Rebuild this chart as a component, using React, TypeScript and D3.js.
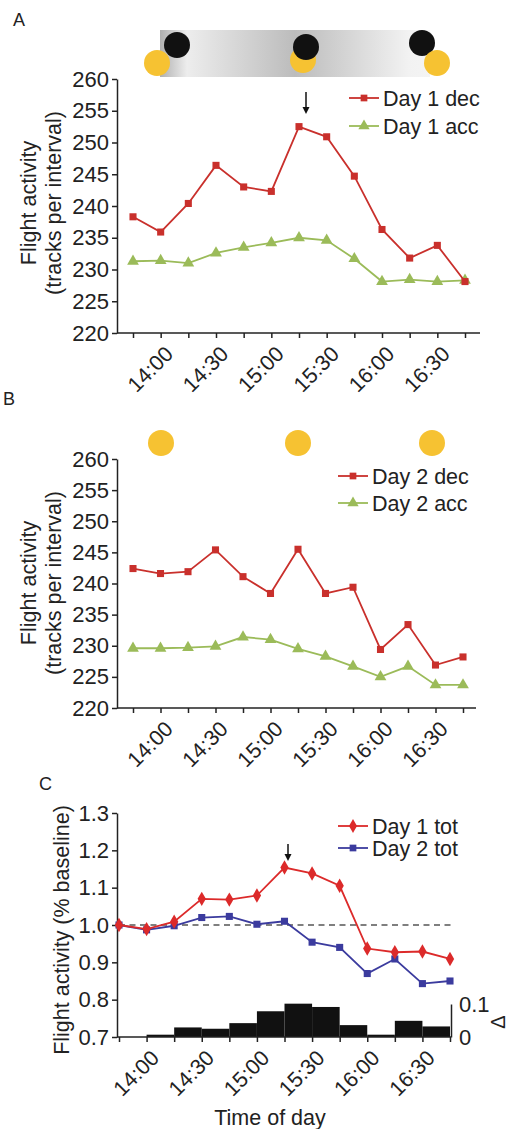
import React, { useEffect, useRef } from 'react';
import * as d3 from 'd3';

// 15 min intervals
const times = ['13:45', '14:00', '14:15', '14:30', '14:45', '15:00', '15:15', '15:30', '15:45', '16:00', '16:15', '16:30', '16:45'];
const timeLabels = ['14:00', '14:30', '15:00', '15:30', '16:00', '16:30'];

const countTicks = [220, 225, 230, 235, 240, 245, 250, 255, 260];
const relTicks = [0.7, 0.8, 0.9, 1.0, 1.1, 1.2, 1.3];
const deltaTicks = [0, 0.1];

const day1Dec = [238.3, 235.9, 240.4, 246.4, 243.0, 242.3, 252.5, 250.9, 244.7, 236.3, 231.8, 233.8, 228.1];
const day1Acc = [231.3, 231.4, 231.0, 232.6, 233.5, 234.2, 235.0, 234.6, 231.7, 228.1, 228.4, 228.1, 228.3];
const day2Dec = [242.4, 241.6, 241.9, 245.4, 241.1, 238.4, 245.5, 238.4, 239.4, 229.4, 233.4, 226.9, 228.2];
const day2Acc = [229.6, 229.6, 229.7, 229.9, 231.4, 231.0, 229.5, 228.3, 226.7, 225.0, 226.7, 223.7, 223.7];
const day1Tot = [1.0, 0.989, 1.009, 1.07, 1.068, 1.079, 1.154, 1.138, 1.105, 0.937, 0.927, 0.929, 0.909];
const day2Tot = [1.0, 0.987, 0.998, 1.02, 1.023, 1.002, 1.01, 0.954, 0.94, 0.87, 0.909, 0.843, 0.85];
// difference between days, one value per interval
const delta = [0, 0.007, 0.029, 0.025, 0.042, 0.078, 0.101, 0.091, 0.036, 0.007, 0.049, 0.032];

const FONT = 'Arial, "Liberation Sans", sans-serif';
const RED = '#c9302c';
const GREEN = '#9bbb59';
const RED2 = '#dc2a2a';
const BLUE = '#3b3b9e';
const SUN = '#f6c232';

export default function App() {
  const svgRef = useRef(null);

  useEffect(() => {
    const svg = d3.select(svgRef.current);
    svg.selectAll('*').remove();
    svg.style('font-family', FONT);

    const defs = svg.append('defs');
    const grad = defs.append('linearGradient').attr('id', 'sky');
    [['0%', '#b0b0b0'], ['10%', '#ededed'], ['50%', '#bcbcbc'], ['92%', '#f2f2f2'], ['100%', '#f4f4f4']]
      .forEach(([o, c]) => grad.append('stop').attr('offset', o).attr('stop-color', c));

    const symbol = (type, size) => d3.symbol().type(type).size(size)();

    function series(g, x, y, values, color, type, size) {
      const line = d3.line().x((d, i) => x(times[i])).y(d => y(d));
      g.append('path').attr('d', line(values)).attr('fill', 'none')
        .attr('stroke', color).attr('stroke-width', 1.8);
      g.selectAll(null).data(values).enter().append('path')
        .attr('d', symbol(type, size))
        .attr('transform', (d, i) => `translate(${x(times[i])},${y(d)})`)
        .attr('fill', color);
    }

    function legend(g, lx, ly, label, color, type, size) {
      g.append('line').attr('x1', lx).attr('x2', lx + 30).attr('y1', ly).attr('y2', ly)
        .attr('stroke', color).attr('stroke-width', 1.8);
      g.append('path').attr('d', symbol(type, size))
        .attr('transform', `translate(${lx + 15},${ly})`).attr('fill', color);
      g.append('text').attr('x', lx + 34).attr('y', ly).attr('dy', '0.36em')
        .attr('font-size', 21.5).attr('fill', '#222').text(label);
    }

    function yAxis(g, y, ticks, fmt) {
      const a = g.append('g').attr('transform', 'translate(117,0)')
        .call(d3.axisLeft(y).tickValues(ticks).tickFormat(fmt).tickSize(5).tickSizeOuter(0));
      a.select('.domain').attr('stroke', '#222').attr('stroke-width', 1.5);
      a.selectAll('.tick line').attr('stroke', '#222').attr('stroke-width', 1.5);
      a.selectAll('text').attr('font-size', 22).attr('font-family', FONT).attr('fill', '#222');
    }

    function xAxis(g, x, y0, x0, x1) {
      const a = g.append('g').attr('transform', `translate(0,${y0})`)
        .call(d3.axisBottom(x).tickSize(5).tickSizeOuter(0)
          .tickFormat(d => (timeLabels.includes(d) ? d : '')));
      a.select('.domain').remove();
      a.append('line').attr('x1', x0).attr('x2', x1).attr('stroke', '#222').attr('stroke-width', 1.5);
      a.selectAll('.tick line').attr('stroke', '#222').attr('stroke-width', 1.5);
      a.selectAll('text').attr('font-size', 21.5).attr('font-family', FONT).attr('fill', '#222')
        .attr('text-anchor', 'end').attr('dy', '0.35em').attr('y', 0)
        .attr('transform', 'translate(8,17) rotate(-45)');
    }

    function yTitle(g, lines, cx, cy) {
      lines.forEach((t, i) => {
        g.append('text').attr('transform', `translate(${cx + i * 25},${cy}) rotate(-90)`)
          .attr('text-anchor', 'middle').attr('dy', '0.35em')
          .attr('font-size', 21.5).attr('fill', '#222').text(t);
      });
    }

    function arrow(g, ax, y1, y2) {
      g.append('line').attr('x1', ax).attr('x2', ax).attr('y1', y1).attr('y2', y2 - 4)
        .attr('stroke', '#111').attr('stroke-width', 1.5);
      g.append('path').attr('d', `M${ax - 3.5},${y2 - 7}L${ax},${y2}L${ax + 3.5},${y2 - 7}Z`).attr('fill', '#111');
    }

    // ---- panel A ----
    const gA = svg.append('g');
    gA.append('text').attr('x', 13).attr('y', 26).attr('font-size', 18).attr('fill', '#222').text('A');
    gA.append('rect').attr('x', 160).attr('y', 30).attr('width', 270).attr('height', 47).attr('fill', 'url(#sky)');
    gA.append('circle').attr('cx', 157).attr('cy', 63).attr('r', 13).attr('fill', SUN);
    gA.append('circle').attr('cx', 177).attr('cy', 45).attr('r', 13).attr('fill', '#111');
    gA.append('circle').attr('cx', 303).attr('cy', 60).attr('r', 13).attr('fill', SUN);
    gA.append('circle').attr('cx', 306).attr('cy', 47).attr('r', 13).attr('fill', '#111');
    gA.append('circle').attr('cx', 422).attr('cy', 43).attr('r', 13).attr('fill', '#111');
    gA.append('circle').attr('cx', 437).attr('cy', 63).attr('r', 13).attr('fill', SUN);

    const xA = d3.scalePoint().domain(times).range([133, 465]);
    const yA = d3.scaleLinear().domain([220, 260]).range([333, 79]);
    yAxis(gA, yA, countTicks, d => d);
    xAxis(gA, xA, 333, 117, 480);
    yTitle(gA, ['Flight activity', '(tracks per interval)'], 28, 203);
    series(gA, xA, yA, day1Acc, GREEN, d3.symbolTriangle, 60);
    series(gA, xA, yA, day1Dec, RED, d3.symbolSquare, 50);
    arrow(gA, 306, 92, 114);
    legend(gA, 349, 98, 'Day 1 dec', RED, d3.symbolSquare, 45);
    legend(gA, 349, 126, 'Day 1 acc', GREEN, d3.symbolTriangle, 55);

    // ---- panel B ----
    const gB = svg.append('g');
    gB.append('text').attr('x', 3).attr('y', 405).attr('font-size', 18).attr('fill', '#222').text('B');
    [161, 298, 432].forEach(cx => gB.append('circle').attr('cx', cx).attr('cy', 443).attr('r', 13).attr('fill', SUN));
    const xB = d3.scalePoint().domain(times).range([133, 463]);
    const yB = d3.scaleLinear().domain([220, 260]).range([708, 459]);
    yAxis(gB, yB, countTicks, d => d);
    xAxis(gB, xB, 708, 117, 476);
    yTitle(gB, ['Flight activity', '(tracks per interval)'], 28, 583);
    series(gB, xB, yB, day2Acc, GREEN, d3.symbolTriangle, 60);
    series(gB, xB, yB, day2Dec, RED, d3.symbolSquare, 50);
    legend(gB, 338, 476, 'Day 2 dec', RED, d3.symbolSquare, 45);
    legend(gB, 338, 503, 'Day 2 acc', GREEN, d3.symbolTriangle, 55);

    // ---- panel C ----
    const gC = svg.append('g');
    gC.append('text').attr('x', 39).attr('y', 790).attr('font-size', 18).attr('fill', '#222').text('C');
    const xC = d3.scalePoint().domain(times).range([119, 450]);
    const yC = d3.scaleLinear().domain([0.7, 1.3]).range([1037, 813]);
    const yD = d3.scaleLinear().domain([0, 0.1]).range([1037, 1004]);

    gC.selectAll(null).data(delta).enter().append('rect')
      .attr('x', (d, i) => xC(times[i]))
      .attr('width', (d, i) => xC(times[i + 1]) - xC(times[i]))
      .attr('y', d => yD(d))
      .attr('height', d => yD(0) - yD(d))
      .attr('fill', '#111');

    yAxis(gC, yC, relTicks, d3.format('.1f'));
    xAxis(gC, xC, 1037, 117, 451);
    const r = gC.append('g').attr('transform', 'translate(451,0)')
      .call(d3.axisRight(yD).tickValues(deltaTicks).tickFormat(d => (d === 0 ? '0' : d)).tickSize(0).tickSizeOuter(0).tickPadding(8));
    r.select('.domain').attr('stroke', '#222').attr('stroke-width', 1.5);
    r.selectAll('text').attr('font-size', 22).attr('font-family', FONT).attr('fill', '#222');
    gC.append('text').attr('transform', 'translate(498,1022) rotate(-90)').attr('text-anchor', 'middle')
      .attr('dy', '0.35em').attr('font-size', 20).attr('fill', '#222').text('Δ');

    gC.append('line').attr('x1', 119).attr('x2', 452).attr('y1', yC(1)).attr('y2', yC(1))
      .attr('stroke', '#555').attr('stroke-width', 1.6).attr('stroke-dasharray', '6,4.5');
    yTitle(gC, ['Flight activity (% baseline)'], 61, 930);
    series(gC, xC, yC, day2Tot, BLUE, d3.symbolSquare, 50);
    series(gC, xC, yC, day1Tot, RED2, d3.symbolDiamond, 60);
    arrow(gC, 288, 844, 861);
    legend(gC, 338, 826, 'Day 1 tot', RED2, d3.symbolDiamond, 55);
    legend(gC, 338, 848, 'Day 2 tot', BLUE, d3.symbolSquare, 45);

    gC.append('text').attr('x', 270).attr('y', 1125).attr('text-anchor', 'middle')
      .attr('font-size', 21.5).attr('fill', '#222').text('Time of day');
  }, []);

  return (
    <svg ref={svgRef} width={508} height={1129}
      style={{ position: 'absolute', left: 0, top: 0, background: '#fff' }} />
  );
}
